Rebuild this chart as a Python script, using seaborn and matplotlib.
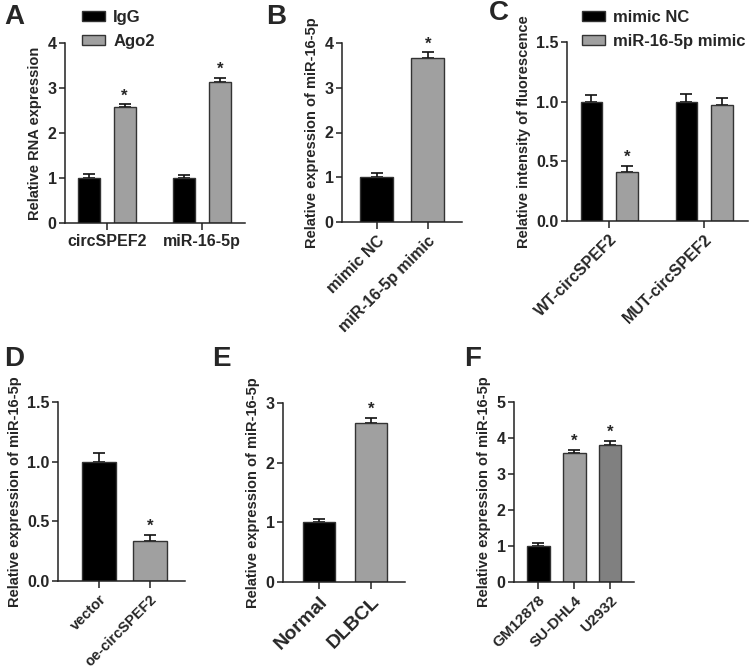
import numpy as np
import pandas as pd
import matplotlib
matplotlib.use("Agg")
import matplotlib.pyplot as plt
import matplotlib.patches as mpatches
import seaborn as sns

sns.set_theme(style="ticks")
plt.rcParams['font.family'] = ['Liberation Sans', 'DejaVu Sans']
plt.rcParams['font.weight'] = 'bold'

# ---- data ----
a_targets = ["circSPEF2", "miR-16-5p"]
a_groups = ["IgG", "Ago2"]
a_values = {"IgG": [1.0, 1.0], "Ago2": [2.57, 3.13]}
a_errors = {"IgG": [0.08, 0.07], "Ago2": [0.07, 0.10]}

b_cats = ["mimic NC", "miR-16-5p mimic"]
b_values = [1.0, 3.67]
b_errors = [0.09, 0.12]

c_targets = ["WT-circSPEF2", "MUT-circSPEF2"]
c_groups = ["mimic NC", "miR-16-5p mimic"]
c_values = {"mimic NC": [1.0, 1.0], "miR-16-5p mimic": [0.41, 0.97]}
c_errors = {"mimic NC": [0.06, 0.065], "miR-16-5p mimic": [0.05, 0.06]}

d_cats = ["vector", "oe-circSPEF2"]
d_values = [1.0, 0.335]
d_errors = [0.07, 0.05]

e_cats = ["Normal", "DLBCL"]
e_values = [1.0, 2.67]
e_errors = [0.06, 0.08]

f_cats = ["GM12878", "SU-DHL4", "U2932"]
f_values = [1.0, 3.57, 3.80]
f_errors = [0.08, 0.10, 0.13]

BLACK = "#000000"
GRAY = "#a0a0a0"
DGRAY = "#808080"
EDGE = "#333333"

TICK_FS = 11.5
LAB_FS = 10.5

W, H = 749, 670
fig = plt.figure(figsize=(W / 100, H / 100), dpi=100)


def add_ax(left, right, ybot, ytop):
    return fig.add_axes([left / W, 1 - ybot / H, (right - left) / W, (ybot - ytop) / H])


def style(ax, ylim, yticks, fmt, xlim, ylabel, rot, xfs=TICK_FS):
    ax.set_ylim(*ylim)
    ax.set_xlim(*xlim)
    ax.set_yticks(yticks)
    ax.set_yticklabels([fmt.format(t) for t in yticks], fontsize=TICK_FS, fontweight='bold')
    for s in ["top", "right"]:
        ax.spines[s].set_visible(False)
    for s in ["left", "bottom"]:
        ax.spines[s].set_linewidth(1.1)
        ax.spines[s].set_color("#222222")
    ax.tick_params(axis='y', length=4, width=1.1, color="#222222", pad=2)
    ax.tick_params(axis='x', length=5, width=1.1, color="#222222", pad=3)
    ax.set_ylabel(ylabel, fontsize=LAB_FS, fontweight='bold', labelpad=4)
    ax.set_xlabel("")
    for lab in ax.get_xticklabels():
        lab.set_fontweight('bold')
        lab.set_fontsize(xfs)
        if rot:
            lab.set_rotation(45)
            lab.set_ha('right')
            lab.set_rotation_mode('anchor')


def errs(ax, xs, vals, es, stars, ylim):
    ax.errorbar(xs, vals, yerr=[np.zeros(len(vals)), es], fmt='none', ecolor='#111111',
                elinewidth=1.2, capsize=4.5, capthick=1.2, zorder=1)
    span = ylim[1] - ylim[0]
    for x, v, e, s in zip(xs, vals, es, stars):
        if s:
            ax.text(x, v + e + span * 0.005, "*", ha='center', va='bottom',
                    fontsize=12, fontweight='bold')


def make_legend(ax, labels, colors, x):
    ax.legend(handles=[mpatches.Patch(facecolor=c, edgecolor=EDGE, label=l)
                       for l, c in zip(labels, colors)],
              loc='upper left', bbox_to_anchor=(x / W, 1 - 3 / H), bbox_transform=fig.transFigure,
              frameon=False, prop={'weight': 'bold', 'size': 12}, handlelength=1.4,
              handleheight=0.5, labelspacing=0.55, handletextpad=0.5, borderaxespad=0)

# ---- A ----
axA = add_ax(65, 245, 222.7, 43.3)
dfA = pd.DataFrame([(t, g, a_values[g][i]) for g in a_groups for i, t in enumerate(a_targets)],
                   columns=["target", "group", "value"])
sns.barplot(data=dfA, x="target", y="value", hue="group", order=a_targets, hue_order=a_groups,
            palette={"IgG": BLACK, "Ago2": GRAY}, width=0.75, gap=0.39, errorbar=None,
            edgecolor=EDGE, linewidth=1.0, ax=axA, legend=False, zorder=2)
xs = [p.get_x() + p.get_width() / 2 for p in axA.patches[:4]]
vals = a_values["IgG"] + a_values["Ago2"]
es = a_errors["IgG"] + a_errors["Ago2"]
errs(axA, xs, vals, es, [False, False, True, True], (0, 4))
style(axA, (0, 4), [0, 1, 2, 3, 4], "{:d}", (-0.436, 1.447), "Relative RNA expression", False)
make_legend(axA, a_groups, [BLACK, GRAY], 75)

# ---- B ----
axB = add_ax(342, 462, 222, 43)
dfB = pd.DataFrame({"cat": b_cats, "value": b_values})
sns.barplot(data=dfB, x="cat", y="value", hue="cat", palette=[BLACK, GRAY], width=0.64,
            errorbar=None, edgecolor=EDGE, linewidth=1.0, ax=axB, legend=False, zorder=2)
errs(axB, [0, 1], b_values, b_errors, [False, True], (0, 4))
style(axB, (0, 4), [0, 1, 2, 3, 4], "{:d}", (-0.68, 1.67), "Relative expression of miR-16-5p", True)

# ---- C ----
axC = add_ax(567, 748, 221, 42)
dfC = pd.DataFrame([(t, g, c_values[g][i]) for g in c_groups for i, t in enumerate(c_targets)],
                   columns=["target", "group", "value"])
sns.barplot(data=dfC, x="target", y="value", hue="group", order=c_targets, hue_order=c_groups,
            palette={"mimic NC": BLACK, "miR-16-5p mimic": GRAY}, width=0.75, gap=0.39,
            errorbar=None, edgecolor=EDGE, linewidth=1.0, ax=axC, legend=False, zorder=2)
xs = [p.get_x() + p.get_width() / 2 for p in axC.patches[:4]]
vals = c_values["mimic NC"] + c_values["miR-16-5p mimic"]
es = c_errors["mimic NC"] + c_errors["miR-16-5p mimic"]
errs(axC, xs, vals, es, [False, False, True, False], (0, 1.5))
style(axC, (0, 1.5), [0, 0.5, 1.0, 1.5], "{:.1f}", (-0.445, 1.46),
      "Relative intensity of fluorescence", True)
make_legend(axC, c_groups, [BLACK, GRAY], 575)

# ---- D ----
axD = add_ax(58, 185, 581, 402)
dfD = pd.DataFrame({"cat": d_cats, "value": d_values})
sns.barplot(data=dfD, x="cat", y="value", hue="cat", palette=[BLACK, GRAY], width=0.66,
            errorbar=None, edgecolor=EDGE, linewidth=1.0, ax=axD, legend=False, zorder=2)
errs(axD, [0, 1], d_values, d_errors, [False, True], (0, 1.5))
style(axD, (0, 1.5), [0, 0.5, 1.0, 1.5], "{:.1f}", (-0.80, 1.69),
      "Relative expression of miR-16-5p", True, xfs=10.5)

# ---- E ----
axE = add_ax(283, 405, 582, 403)
dfE = pd.DataFrame({"cat": e_cats, "value": e_values})
sns.barplot(data=dfE, x="cat", y="value", hue="cat", palette=[BLACK, GRAY], width=0.63,
            errorbar=None, edgecolor=EDGE, linewidth=1.0, ax=axE, legend=False, zorder=2)
errs(axE, [0, 1], e_values, e_errors, [False, True], (0, 3))
style(axE, (0, 3), [0, 1, 2, 3], "{:d}", (-0.706, 1.667),
      "Relative expression of miR-16-5p", True, xfs=14)

# ---- F ----
axF = add_ax(514, 634, 582, 402)
dfF = pd.DataFrame({"cat": f_cats, "value": f_values})
sns.barplot(data=dfF, x="cat", y="value", hue="cat", palette=[BLACK, GRAY, DGRAY], width=0.64,
            errorbar=None, edgecolor=EDGE, linewidth=1.0, ax=axF, legend=False, zorder=2)
errs(axF, [0, 1, 2], f_values, f_errors, [False, True, True], (0, 5))
style(axF, (0, 5), [0, 1, 2, 3, 4, 5], "{:d}", (-0.678, 2.67),
      "Relative expression of miR-16-5p", True, xfs=11)

# ---- panel letters ----
for letter, x, y in [("A", 4, 24), ("B", 266, 24), ("C", 489, 20),
                     ("D", 4, 366), ("E", 212, 366), ("F", 464, 366)]:
    fig.text(x / W, 1 - y / H, letter, fontsize=20, fontweight='bold', ha='left', va='baseline')

fig.savefig("out.png", dpi=100)
